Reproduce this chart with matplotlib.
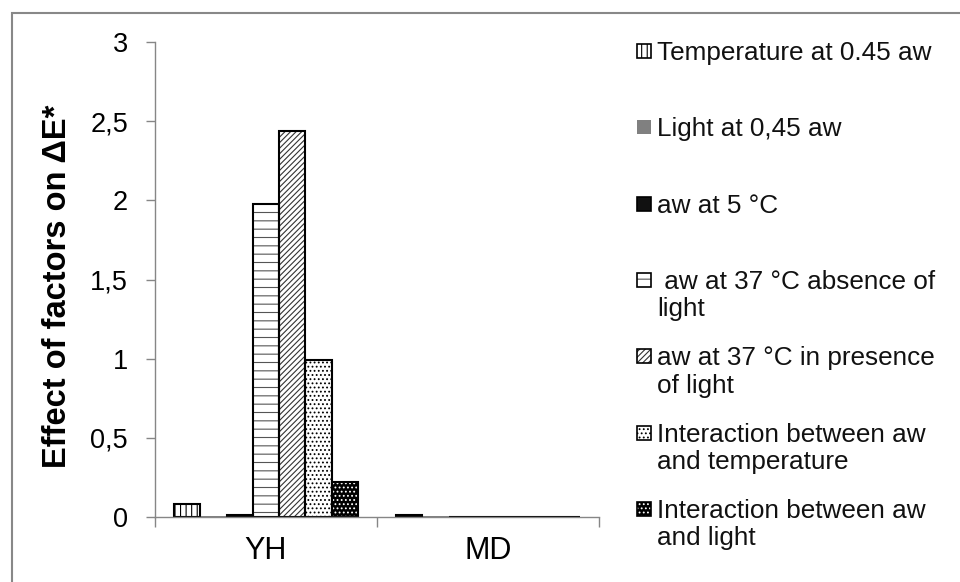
import matplotlib
matplotlib.use('Agg')
import matplotlib.pyplot as plt
from matplotlib.patches import Rectangle
import numpy as np

plt.rcParams['font.family'] = ['Liberation Sans', 'DejaVu Sans']
plt.rcParams['hatch.linewidth'] = 0.8

# ---------------- data ----------------
categories = ['YH', 'MD']
series_labels = [
    'Temperature at 0.45 aw',
    'Light at 0,45 aw',
    'aw at 5 °C',
    ' aw at 37 °C absence of\nlight',
    'aw at 37 °C in presence\nof light',
    'Interaction between aw\nand temperature',
    'Interaction between aw\nand light',
]
temp_045 = [0.08, 0.01]
light_045 = [0.005, 0.005]
aw_5c = [0.01, 0.0]
aw_37_dark = [1.98, 0.0]
aw_37_light = [2.44, 0.0]
inter_aw_temp = [0.99, 0.0]
inter_aw_light = [0.22, 0.0]
y_ticks = [0, 0.5, 1, 1.5, 2, 2.5, 3]
y_tick_labels = ['0', '0,5', '1', '1,5', '2', '2,5', '3']
y_label = 'Effect of factors on ΔE*'

series_values = [temp_045, light_045, aw_5c, aw_37_dark, aw_37_light,
                 inter_aw_temp, inter_aw_light]

# styles: (face, hatch, hatch colour, outline colour)
styles = [
    ('white', '|||', 'black', 'black'),
    ('#808080', None, '#808080', 'none'),
    ('#111111', None, '#111111', 'black'),
    ('white', '--', '#555555', 'black'),
    ('white', '//////', '#333333', 'black'),
    ('white', '....', 'black', 'black'),
    ('black', '....', 'white', 'black'),
]

W, H = 960, 582
fig = plt.figure(figsize=(W / 100, H / 100), dpi=100)
ax = fig.add_axes([155 / W, 1 - 517 / H, (599 - 155) / W, (517 - 42) / H])

n = len(series_values)
group = 0.83
w = group / n
xc = np.arange(len(categories))
for i, (vals, (fc, hatch, hc, ec)) in enumerate(zip(series_values, styles)):
    x = xc - group / 2 + w * (i + 0.5)
    ax.bar(x, vals, w, color=fc, edgecolor=hc, hatch=hatch, linewidth=0, zorder=2)
    if ec != 'none':
        ax.bar(x, vals, w, fill=False, edgecolor=ec, linewidth=1.5, zorder=3)

ax.set_xlim(-0.5, len(categories) - 0.5)
ax.set_ylim(0, 3)
ax.set_yticks(y_ticks, y_tick_labels)
ax.set_xticks(np.arange(len(categories) + 1) - 0.5, [''] * (len(categories) + 1))
ax.set_xticks(xc, categories, minor=True)

grey = '#868686'
for s in ['top', 'right']:
    ax.spines[s].set_visible(False)
for s in ['left', 'bottom']:
    ax.spines[s].set_color(grey)
    ax.spines[s].set_linewidth(1.0)
    ax.spines[s].set_zorder(4)
ax.tick_params(axis='y', direction='out', length=6.5, width=1, color=grey,
               labelsize=19.5, pad=13, labelcolor='black')
ax.tick_params(axis='x', which='major', direction='out', length=7, width=1, color=grey)
ax.tick_params(axis='x', which='minor', length=0, labelsize=22, pad=14, labelcolor='black')

fig.text(58 / W, 1 - 286 / H, y_label, rotation=90, ha='center', va='center',
         fontsize=23.5, fontweight='bold')

# ---------------- legend (drawn by hand) ----------------
first_y = 51
step = 76.3
line_h = 27.5
box = 14
for i, (lab, (fc, hatch, hc, ec)) in enumerate(zip(series_labels, styles)):
    yc = first_y + i * step
    rect = Rectangle((637 / W, 1 - (yc + box / 2) / H), box / W, box / H,
                     transform=fig.transFigure, facecolor=fc, edgecolor=hc,
                     hatch=hatch, linewidth=0)
    fig.add_artist(rect)
    if ec != 'none':
        outline = Rectangle((637 / W, 1 - (yc + box / 2) / H), box / W, box / H,
                            transform=fig.transFigure, fill=False, edgecolor=ec,
                            linewidth=1.2)
        fig.add_artist(outline)
    for j, line in enumerate(lab.split('\n')):
        fig.text(657 / W, 1 - (yc + 2 + j * line_h) / H, line, ha='left',
                 va='center', fontsize=18.8, color='#111111')

# outer chart border
border = Rectangle((12 / W, -0.1), 1.2, 1.1 - 12.5 / H, transform=fig.transFigure,
                   fill=False, edgecolor='#888888', linewidth=1.5)
fig.add_artist(border)

fig.savefig('out.png', dpi=100)
